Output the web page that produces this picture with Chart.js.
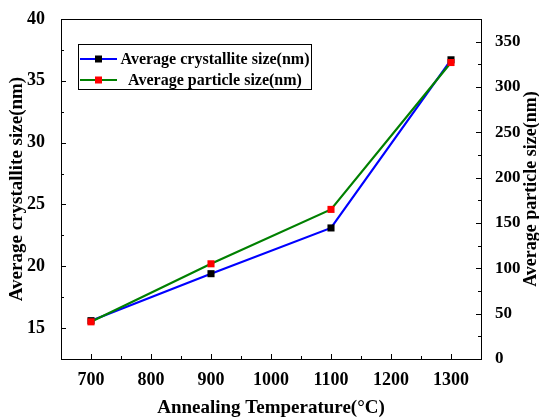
<!DOCTYPE html>
<html><head><meta charset="utf-8">
<script src="https://cdn.jsdelivr.net/npm/chart.js@4/dist/chart.umd.min.js"></script>
<style>html,body{margin:0;padding:0;background:#fff}#wrap{width:539px;height:419px}</style>
</head><body><div id="wrap"><canvas id="c" width="539" height="419"></canvas></div>
<script>
// ---- data ----
const temperatures = [700, 900, 1100, 1300];
const crystalliteSize = [15.6, 19.4, 23.1, 36.7];
const particleSize = [41, 105, 165, 327];
const xTicks = [700, 800, 900, 1000, 1100, 1200, 1300];
const xMinorTicks = [750, 850, 950, 1050, 1150, 1250];
const leftTicks = [15, 20, 25, 30, 35, 40];
const leftMinorTicks = [17.5, 22.5, 27.5, 32.5, 37.5];
const rightTicks = [0, 50, 100, 150, 200, 250, 300, 350];
const rightMinorTicks = [25, 75, 125, 175, 225, 275, 325];
const crystalliteLabel = 'Average crystallite size(nm)';
const particleLabel = 'Average particle size(nm)';
const xTitle = 'Annealing Temperature(\u00B0C)';
const leftTitle = 'Average crystallite size(nm)';
const rightTitle = 'Average particle size(nm)';

const FONT = '"Liberation Serif", "Times New Roman", serif';
const plain = v => String(v);

const frameTicks = {
  id: 'frameTicks',
  afterDraw(chart) {
    const {ctx, chartArea: a, scales} = chart;
    ctx.save();
    ctx.strokeStyle = '#000';
    ctx.lineWidth = 1;
    ctx.beginPath();
    ctx.moveTo(a.left, a.top + 0.5); ctx.lineTo(a.right + 0.5, a.top + 0.5);
    ctx.stroke();
    const hx = (vals, len) => {
      vals.forEach(v => {
        const x = Math.round(scales.x.getPixelForValue(v)) + 0.5;
        ctx.beginPath(); ctx.moveTo(x, a.bottom); ctx.lineTo(x, a.bottom - len); ctx.stroke();
      });
    };
    const vy = (scale, vals, len, side) => {
      vals.forEach(v => {
        const y = Math.round(scale.getPixelForValue(v)) + 0.5;
        const x0 = side === 'left' ? a.left : a.right;
        const x1 = side === 'left' ? a.left + len : a.right - len;
        ctx.beginPath(); ctx.moveTo(x0, y); ctx.lineTo(x1, y); ctx.stroke();
      });
    };
    hx(xTicks, 5); hx(xMinorTicks, 3);
    vy(scales.y, leftTicks, 5, 'left'); vy(scales.y, leftMinorTicks, 3, 'left');
    vy(scales.y1, rightTicks, 5, 'right'); vy(scales.y1, rightMinorTicks, 3, 'right');
    // right title (reads bottom-to-top)
    ctx.fillStyle = '#000';
    ctx.font = 'bold 18px ' + FONT;
    ctx.textAlign = 'center';
    ctx.textBaseline = 'middle';
    ctx.translate(531, (a.top + a.bottom) / 2);
    ctx.rotate(-Math.PI / 2);
    ctx.fillText(rightTitle, 0, 0);
    ctx.restore();

    // legend
    ctx.save();
    const bx = a.left + 17, by = a.top + 25, bw = 233, bh = 45;
    ctx.fillStyle = '#fff';
    ctx.fillRect(bx, by, bw, bh);
    ctx.strokeStyle = '#000'; ctx.lineWidth = 1;
    ctx.strokeRect(bx + 0.5, by + 0.5, bw, bh);
    const rows = chart.data.datasets.slice().sort((p, q) => p.legendIndex - q.legendIndex);
    rows.forEach((ds, i) => {
      const y = by + 15 + i * 21;
      ctx.strokeStyle = ds.borderColor; ctx.lineWidth = 2;
      ctx.beginPath(); ctx.moveTo(bx + 2, y); ctx.lineTo(bx + 39, y); ctx.stroke();
      ctx.fillStyle = ds.pointBackgroundColor;
      ctx.fillRect(bx + 17, y - 3.5, 7, 7);
      ctx.fillStyle = '#000';
      ctx.font = 'bold 16px ' + FONT;
      ctx.textAlign = 'center'; ctx.textBaseline = 'middle';
      ctx.fillText(ds.label, bx + 137, y + 1);
    });
    ctx.restore();
  }
};

new Chart(document.getElementById('c'), {
  type: 'line',
  data: {
    datasets: [
      {
        label: crystalliteLabel, legendIndex: 0, order: 1,
        data: temperatures.map((t, i) => ({x: t, y: crystalliteSize[i]})),
        yAxisID: 'y', borderColor: '#0000ff', borderWidth: 2.2,
        pointStyle: 'rect', pointRadius: 5, pointHoverRadius: 5,
        pointBackgroundColor: '#000000', pointBorderWidth: 0, tension: 0
      },
      {
        label: particleLabel, legendIndex: 1, order: 0,
        data: temperatures.map((t, i) => ({x: t, y: particleSize[i]})),
        yAxisID: 'y1', borderColor: '#008000', borderWidth: 2.2,
        pointStyle: 'rect', pointRadius: 5, pointHoverRadius: 5,
        pointBackgroundColor: '#ff0000', pointBorderWidth: 0, tension: 0
      }
    ]
  },
  options: {
    responsive: false, animation: false, devicePixelRatio: 1,
    layout: {padding: {top: 19, left: 0, right: 0, bottom: 0}},
    plugins: {legend: {display: false}, tooltip: {enabled: false}},
    scales: {
      x: {
        type: 'linear', min: 650, max: 1350,
        afterBuildTicks: s => { s.ticks = xTicks.map(v => ({value: v})); },
        afterFit: s => { s.height = 60; },
        grid: {display: false},
        border: {display: true, color: '#000', width: 1},
        ticks: {color: '#000', font: {family: FONT, size: 18, weight: 'bold'}, padding: 3, maxRotation: 0, callback: plain},
        title: {display: true, text: xTitle, color: '#000', font: {family: FONT, size: 19, weight: 'bold'}, padding: {top: 0, bottom: 0}}
      },
      y: {
        type: 'linear', position: 'left', min: 12.5, max: 40,
        afterBuildTicks: s => { s.ticks = leftTicks.map(v => ({value: v})); },
        afterFit: s => { s.width = 61; },
        grid: {display: false},
        border: {display: true, color: '#000', width: 1},
        ticks: {color: '#000', font: {family: FONT, size: 18, weight: 'bold'}, padding: 8, callback: plain},
        title: {display: true, text: leftTitle, color: '#000', font: {family: FONT, size: 19, weight: 'bold'}, padding: {top: 6, bottom: 0}}
      },
      y1: {
        type: 'linear', position: 'right', min: 0, max: 375,
        afterBuildTicks: s => { s.ticks = rightTicks.map(v => ({value: v})); },
        afterFit: s => { s.width = 58; },
        grid: {display: false},
        border: {display: true, color: '#000', width: 1},
        ticks: {color: '#000', font: {family: FONT, size: 17, weight: 'bold'}, padding: 6, callback: plain},
        title: {display: false}
      }
    }
  },
  plugins: [frameTicks]
});
</script></body></html>
